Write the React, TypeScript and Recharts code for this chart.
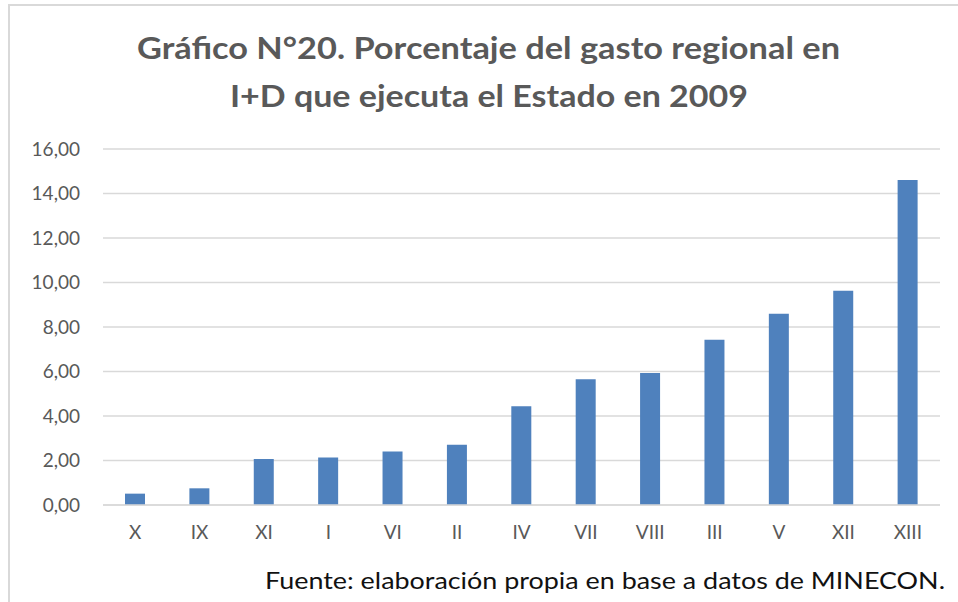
import { Bar, BarChart, CartesianGrid, XAxis, YAxis } from "recharts";

const regions = ["X", "IX", "XI", "I", "VI", "II", "IV", "VII", "VIII", "III", "V", "XII", "XIII"];
const shares = [0.51, 0.75, 2.07, 2.14, 2.41, 2.71, 4.44, 5.65, 5.93, 7.43, 8.6, 9.63, 14.61];
const yTicks = [0, 2, 4, 6, 8, 10, 12, 14, 16];
const titleLines = ["Gráfico N°20. Porcentaje del gasto regional en", "I+D que ejecuta el Estado en 2009"];
const sourceNote = "Fuente: elaboración propia en base a datos de MINECON.";

const data = regions.map((region, i) => ({ region, value: shares[i] }));

const GRID = "#d9d9d9";
const INK = "#595959";
const FONT = "Lato, 'Open Sans', sans-serif";

export default function App() {
  return (
    <div style={{ position: "fixed", left: 0, top: 0, width: 958, height: 602, background: "#fff", overflow: "hidden" }}>
      <div
        style={{
          position: "absolute",
          left: 8,
          top: 4,
          width: 980,
          height: 640,
          border: `2px solid ${GRID}`,
          boxSizing: "border-box",
        }}
      />
      <div style={{ position: "absolute", left: 0, top: 0 }}>
        <BarChart width={958} height={602} data={data} margin={{ top: 149, right: 18, bottom: 57, left: 0 }} barSize={20}>
          <CartesianGrid vertical={false} stroke={GRID} strokeWidth={1.5} />
          <XAxis
            dataKey="region"
            tick={{ fill: INK, fontSize: 19, fontFamily: FONT }}
            axisLine={{ stroke: GRID, strokeWidth: 1.5 }}
            tickLine={false}
            tickSize={0}
            tickMargin={21}
            height={40}
            interval={0}
          />
          <YAxis
            domain={[0, 16]}
            ticks={yTicks}
            width={103}
            tick={{ fill: INK, fontSize: 19, fontFamily: FONT }}
            tickFormatter={(v: number) => v.toFixed(2).replace(".", ",")}
            axisLine={false}
            tickLine={false}
            tickSize={0}
            tickMargin={23}
          />
          <Bar dataKey="value" fill="#4f81bd" isAnimationActive={false} />
        </BarChart>
      </div>
      <svg width={958} height={602} style={{ position: "absolute", left: 0, top: 0, pointerEvents: "none" }}>
        <text x={137} y={59} fontFamily={FONT} fontWeight={700} fontSize={30} fill={INK} textLength={703} lengthAdjust="spacingAndGlyphs">
          {titleLines[0]}
        </text>
        <text x={230} y={107} fontFamily={FONT} fontWeight={700} fontSize={30} fill={INK} textLength={518} lengthAdjust="spacingAndGlyphs">
          {titleLines[1]}
        </text>
        <text x={265} y={589} fontFamily={FONT} fontSize={23} fill="#111" textLength={680} lengthAdjust="spacingAndGlyphs">
          {sourceNote}
        </text>
      </svg>
    </div>
  );
}
